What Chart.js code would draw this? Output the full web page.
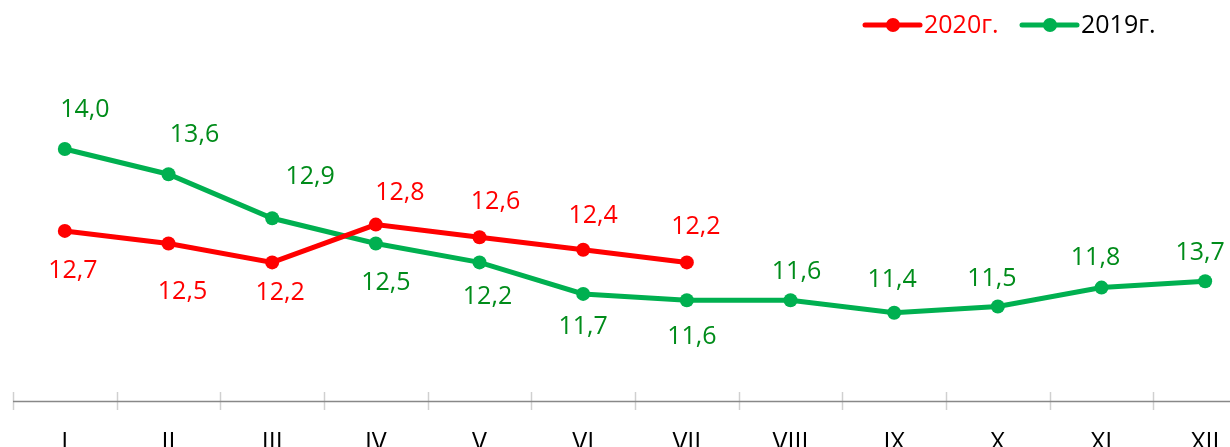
<!DOCTYPE html>
<html>
<head>
<meta charset="utf-8">
<title>2020 vs 2019</title>
<script src="https://cdn.jsdelivr.net/npm/chart.js@4.4.0/dist/chart.umd.min.js"></script>
<style>
    html, body { margin: 0; padding: 0; background: #ffffff; overflow: hidden; }
    #wrap { width: 1230px; height: 447px; overflow: hidden; }
</style>
</head>
<body>
<div id="wrap"><canvas id="chart" width="1264" height="447"></canvas></div>
<script>
// Months (roman numerals)
const months = ['I', 'II', 'III', 'IV', 'V', 'VI', 'VII', 'VIII', 'IX', 'X', 'XI', 'XII'];

// 2020 series (only Jan-Jul)
const values2020 = [12.7, 12.5, 12.2, 12.8, 12.6, 12.4, 12.2];

// 2019 series: plotted points and the numbers printed next to them
// (the last point is drawn near 11.9 while its label reads 13,7)
const values2019 = [14.0, 13.6, 12.9, 12.5, 12.2, 11.7, 11.6, 11.6, 11.4, 11.5, 11.8, 11.9];
const printed2019 = [14.0, 13.6, 12.9, 12.5, 12.2, 11.7, 11.6, 11.6, 11.4, 11.5, 11.8, 13.7];

const seriesNames = ['2020г.', '2019г.'];

// label placement relative to each point [dx, dy]
const offsets2020 = [[8, 40], [14, 48], [8, 30], [24, -32], [16, -35], [10, -34], [9, -36]];
const offsets2019 = [[20, -39], [26, -39], [38, -41], [10, 39], [8, 34], [0, 33], [5, 37],
                     [6, -28], [-2, -33], [-6, -28], [-6, -30], [-5, -28]];

const RED = '#ff0000';
const GREEN = '#00b050';
const GREEN_TEXT = '#008c1a';
const FONT = '"Open Sans", "DejaVu Sans", sans-serif';

const fmt = v => v.toFixed(1).replace('.', ',');

// data labels drawn next to the points
const valueLabels = {
    id: 'valueLabels',
    afterDatasetsDraw(chart) {
        const ctx = chart.ctx;
        const sets = [
            { meta: chart.getDatasetMeta(0), text: values2020, offs: offsets2020, color: RED },
            { meta: chart.getDatasetMeta(1), text: printed2019, offs: offsets2019, color: GREEN_TEXT }
        ];
        ctx.save();
        ctx.font = '25px ' + FONT;
        ctx.textAlign = 'center';
        ctx.textBaseline = 'middle';
        sets.forEach(s => {
            ctx.fillStyle = s.color;
            s.meta.data.forEach((pt, i) => {
                const [dx, dy] = s.offs[i];
                ctx.fillText(fmt(s.text[i]), pt.x + dx, pt.y + dy);
            });
        });
        ctx.restore();
    }
};

// tick marks crossing the axis line, between categories
const axisTicks = {
    id: 'axisTicks',
    afterDraw(chart) {
        const x = chart.scales.x;
        const ctx = chart.ctx;
        const half = (x.getPixelForValue(1) - x.getPixelForValue(0)) / 2;
        ctx.save();
        ctx.strokeStyle = '#d0d0d0';
        ctx.lineWidth = 1.5;
        for (let i = 0; i <= months.length; i++) {
            const px = Math.round(x.getPixelForValue(i) - half) + 0.5;
            ctx.beginPath();
            ctx.moveTo(px, x.top - 9);
            ctx.lineTo(px, x.top + 9);
            ctx.stroke();
        }
        // axis line on top
        ctx.strokeStyle = '#888888';
        ctx.lineWidth = 1.5;
        ctx.beginPath();
        ctx.moveTo(chart.chartArea.left, x.top + 0.5);
        ctx.lineTo(chart.chartArea.right, x.top + 0.5);
        ctx.stroke();
        ctx.restore();
    }
};

// legend in the top right corner: line with dot, then the series name
const customLegend = {
    id: 'customLegend',
    afterDraw(chart) {
        const ctx = chart.ctx;
        const items = [
            { x: 865, color: RED, textColor: RED, name: seriesNames[0] },
            { x: 1022, color: GREEN, textColor: '#000000', name: seriesNames[1] }
        ];
        const y = 25;
        ctx.save();
        ctx.font = '25px ' + FONT;
        ctx.textAlign = 'left';
        ctx.textBaseline = 'middle';
        items.forEach(it => {
            ctx.strokeStyle = it.color;
            ctx.lineWidth = 5;
            ctx.lineCap = 'round';
            ctx.beginPath();
            ctx.moveTo(it.x, y);
            ctx.lineTo(it.x + 55, y);
            ctx.stroke();
            ctx.fillStyle = it.color;
            ctx.beginPath();
            ctx.arc(it.x + 28, y, 7, 0, Math.PI * 2);
            ctx.fill();
            ctx.fillStyle = it.textColor;
            ctx.fillText(it.name, it.x + 59, y + 1);
        });
        ctx.restore();
    }
};

new Chart(document.getElementById('chart'), {
    type: 'line',
    data: {
        labels: months,
        datasets: [
            {
                label: seriesNames[0],
                data: values2020,
                borderColor: RED,
                backgroundColor: RED,
                borderWidth: 5,
                pointRadius: 7,
                pointBorderWidth: 0,
                pointBackgroundColor: RED,
                tension: 0
            },
            {
                label: seriesNames[1],
                data: values2019,
                borderColor: GREEN,
                backgroundColor: GREEN,
                borderWidth: 5,
                pointRadius: 7,
                pointBorderWidth: 0,
                pointBackgroundColor: GREEN,
                tension: 0
            }
        ]
    },
    options: {
        responsive: false,
        animation: false,
        layout: { padding: { top: 23, left: 13, right: 0, bottom: 0 } },
        plugins: {
            legend: { display: false },
            tooltip: { enabled: false }
        },
        scales: {
            x: {
                offset: true,
                grid: { display: false, drawOnChartArea: false },
                border: { display: false },
                afterFit(scale) {
                    scale.height = 46;
                    scale.paddingLeft = 0;
                    scale.paddingRight = 0;
                },
                ticks: {
                    color: '#000000',
                    padding: 19,
                    font: { family: FONT, size: 25, lineHeight: 1.2 }
                }
            },
            y: {
                display: false,
                min: 10,
                max: 16
            }
        }
    },
    plugins: [valueLabels, axisTicks, customLegend]
});
</script>
</body>
</html>
